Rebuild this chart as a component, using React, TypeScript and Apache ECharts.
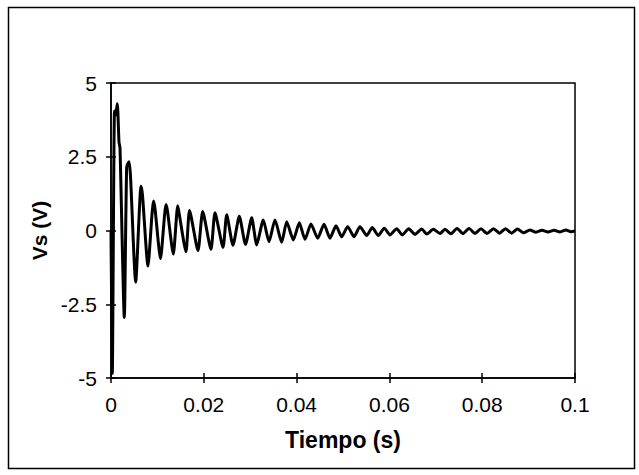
import React, { useEffect, useRef } from "react";
import * as echarts from "echarts";

const timeValues: number[] = [
  0, 0.00028, 0.00075, 0.00097, 0.00136, 0.00172, 0.00194, 0.00287, 0.00338, 0.00388,
  0.0042, 0.00532, 0.00647, 0.00679, 0.00797, 0.00916, 0.00948, 0.01067, 0.01185, 0.01218,
  0.01343, 0.01438, 0.01466, 0.01616, 0.01692, 0.01875, 0.01976, 0.02155, 0.02241, 0.02414,
  0.02494, 0.02629, 0.02765, 0.02899, 0.03032, 0.0314, 0.03282, 0.03405, 0.03534, 0.03679,
  0.03787, 0.03929, 0.04058, 0.04181, 0.0431, 0.04455, 0.04591, 0.0472, 0.04849, 0.04972,
  0.05101, 0.05237, 0.05366, 0.05511, 0.05631, 0.05761, 0.0589, 0.06013, 0.06157, 0.06278,
  0.06416, 0.06552, 0.06696, 0.06804, 0.06946, 0.07091, 0.07198, 0.07328, 0.07457, 0.07586,
  0.07716, 0.07845, 0.07974, 0.08103, 0.08244, 0.08373, 0.08502, 0.08631, 0.08761, 0.0889,
  0.0903, 0.09159, 0.09289, 0.09418, 0.09547, 0.09677, 0.09806, 0.09914, 0.1,
];

const vsValues: number[] = [
  0, -4.85, 4.05, 3.9, 4.3, 3.0, 2.8, -2.95, 2.15, 2.33,
  1.85, -1.75, 1.5, 1.2, -1.2, 1.0, 0.75, -0.95, 0.88, 0.65,
  -0.8, 0.84, 0.6, -0.72, 0.68, -0.68, 0.64, -0.64, 0.6, -0.57,
  0.53, -0.5, 0.48, -0.47, 0.43, -0.49, 0.36, -0.38, 0.36, -0.4,
  0.3, -0.32, 0.26, -0.3, 0.22, -0.26, 0.21, -0.26, 0.16, -0.21,
  0.13, -0.21, 0.13, -0.17, 0.1, -0.17, 0.08, -0.15, 0.06, -0.15,
  0.06, -0.13, 0.05, -0.12, 0.04, -0.1, 0.04, -0.11, 0.07, -0.11,
  0.07, -0.1, 0.06, -0.1, 0.06, -0.09, 0.06, -0.09, 0.05, -0.08,
  0.02, -0.06, 0.01, -0.05, 0.01, -0.05, 0.02, -0.04, -0.02,
];

const xTitle = "Tiempo (s)";
const yTitle = "Vs (V)";
const xTickStep = 0.02;
const yTickStep = 2.5;

const FONT = "'Liberation Sans', Arial, sans-serif";

export default function App() {
  const ref = useRef<HTMLDivElement>(null);
  useEffect(() => {
    if (!ref.current) return;
    const chart = echarts.init(ref.current, undefined, { renderer: "svg" });
    const data = timeValues.map((t, i) => [t, vsValues[i]]);
    const tickLabel = { color: "#000", fontFamily: FONT, fontSize: 21 };
    chart.setOption({
      animation: false,
      backgroundColor: "#fff",
      grid: {
        left: 111,
        right: 64,
        top: 83,
        bottom: 97,
        show: true,
        borderColor: "#000",
        borderWidth: 1.5,
        backgroundColor: "transparent",
      },
      graphic: [
        {
          type: "rect",
          shape: { x: 8.5, y: 7.5, width: 626, height: 461 },
          style: { fill: "none", stroke: "#000", lineWidth: 1.5 },
          silent: true,
        },
      ],
      xAxis: [
        {
          type: "value",
          min: 0,
          max: 0.1,
          interval: xTickStep,
          position: "bottom",
          name: xTitle,
          nameLocation: "middle",
          nameGap: 50,
          nameTextStyle: { color: "#000", fontFamily: FONT, fontSize: 23, fontWeight: "bold" },
          axisLine: { show: true, onZero: false, lineStyle: { color: "#000", width: 1.5 } },
          axisTick: { show: true, inside: false, length: 5, lineStyle: { color: "#000", width: 1.5 } },
          axisLabel: {
            ...tickLabel,
            margin: 16,
            formatter: (v: number) => String(+v.toFixed(2)),
          },
          splitLine: { show: false },
        },
        {
          type: "value",
          min: 0,
          max: 0.1,
          interval: xTickStep,
          position: "bottom",
          axisLine: { show: false, onZero: false },
          axisTick: { show: true, inside: true, length: 5, lineStyle: { color: "#000", width: 1.5 } },
          axisLabel: { show: false },
          splitLine: { show: false },
        },
      ],
      yAxis: [
        {
          type: "value",
          min: -5,
          max: 5,
          interval: yTickStep,
          position: "left",
          name: yTitle,
          nameLocation: "middle",
          nameGap: 56,
          nameTextStyle: { color: "#000", fontFamily: FONT, fontSize: 21, fontWeight: "bold" },
          axisLine: { show: true, onZero: false, lineStyle: { color: "#000", width: 1.5 } },
          axisTick: { show: true, inside: false, length: 5, lineStyle: { color: "#000", width: 1.5 } },
          axisLabel: { ...tickLabel, margin: 14 },
          splitLine: { show: false },
        },
        {
          type: "value",
          min: -5,
          max: 5,
          interval: yTickStep,
          position: "left",
          axisLine: { show: false, onZero: false },
          axisTick: { show: true, inside: true, length: 5, lineStyle: { color: "#000", width: 1.5 } },
          axisLabel: { show: false },
          splitLine: { show: false },
        },
      ],
      series: [
        {
          type: "line",
          xAxisIndex: 0,
          yAxisIndex: 0,
          data,
          showSymbol: false,
          symbol: "none",
          lineStyle: { color: "#000", width: 3, join: "round" },
          smooth: 0.2,
        },
      ],
    });
    return () => chart.dispose();
  }, []);
  return (
    <div
      ref={ref}
      style={{ position: "absolute", left: 0, top: 0, width: 639, height: 475, background: "#fff" }}
    />
  );
}
